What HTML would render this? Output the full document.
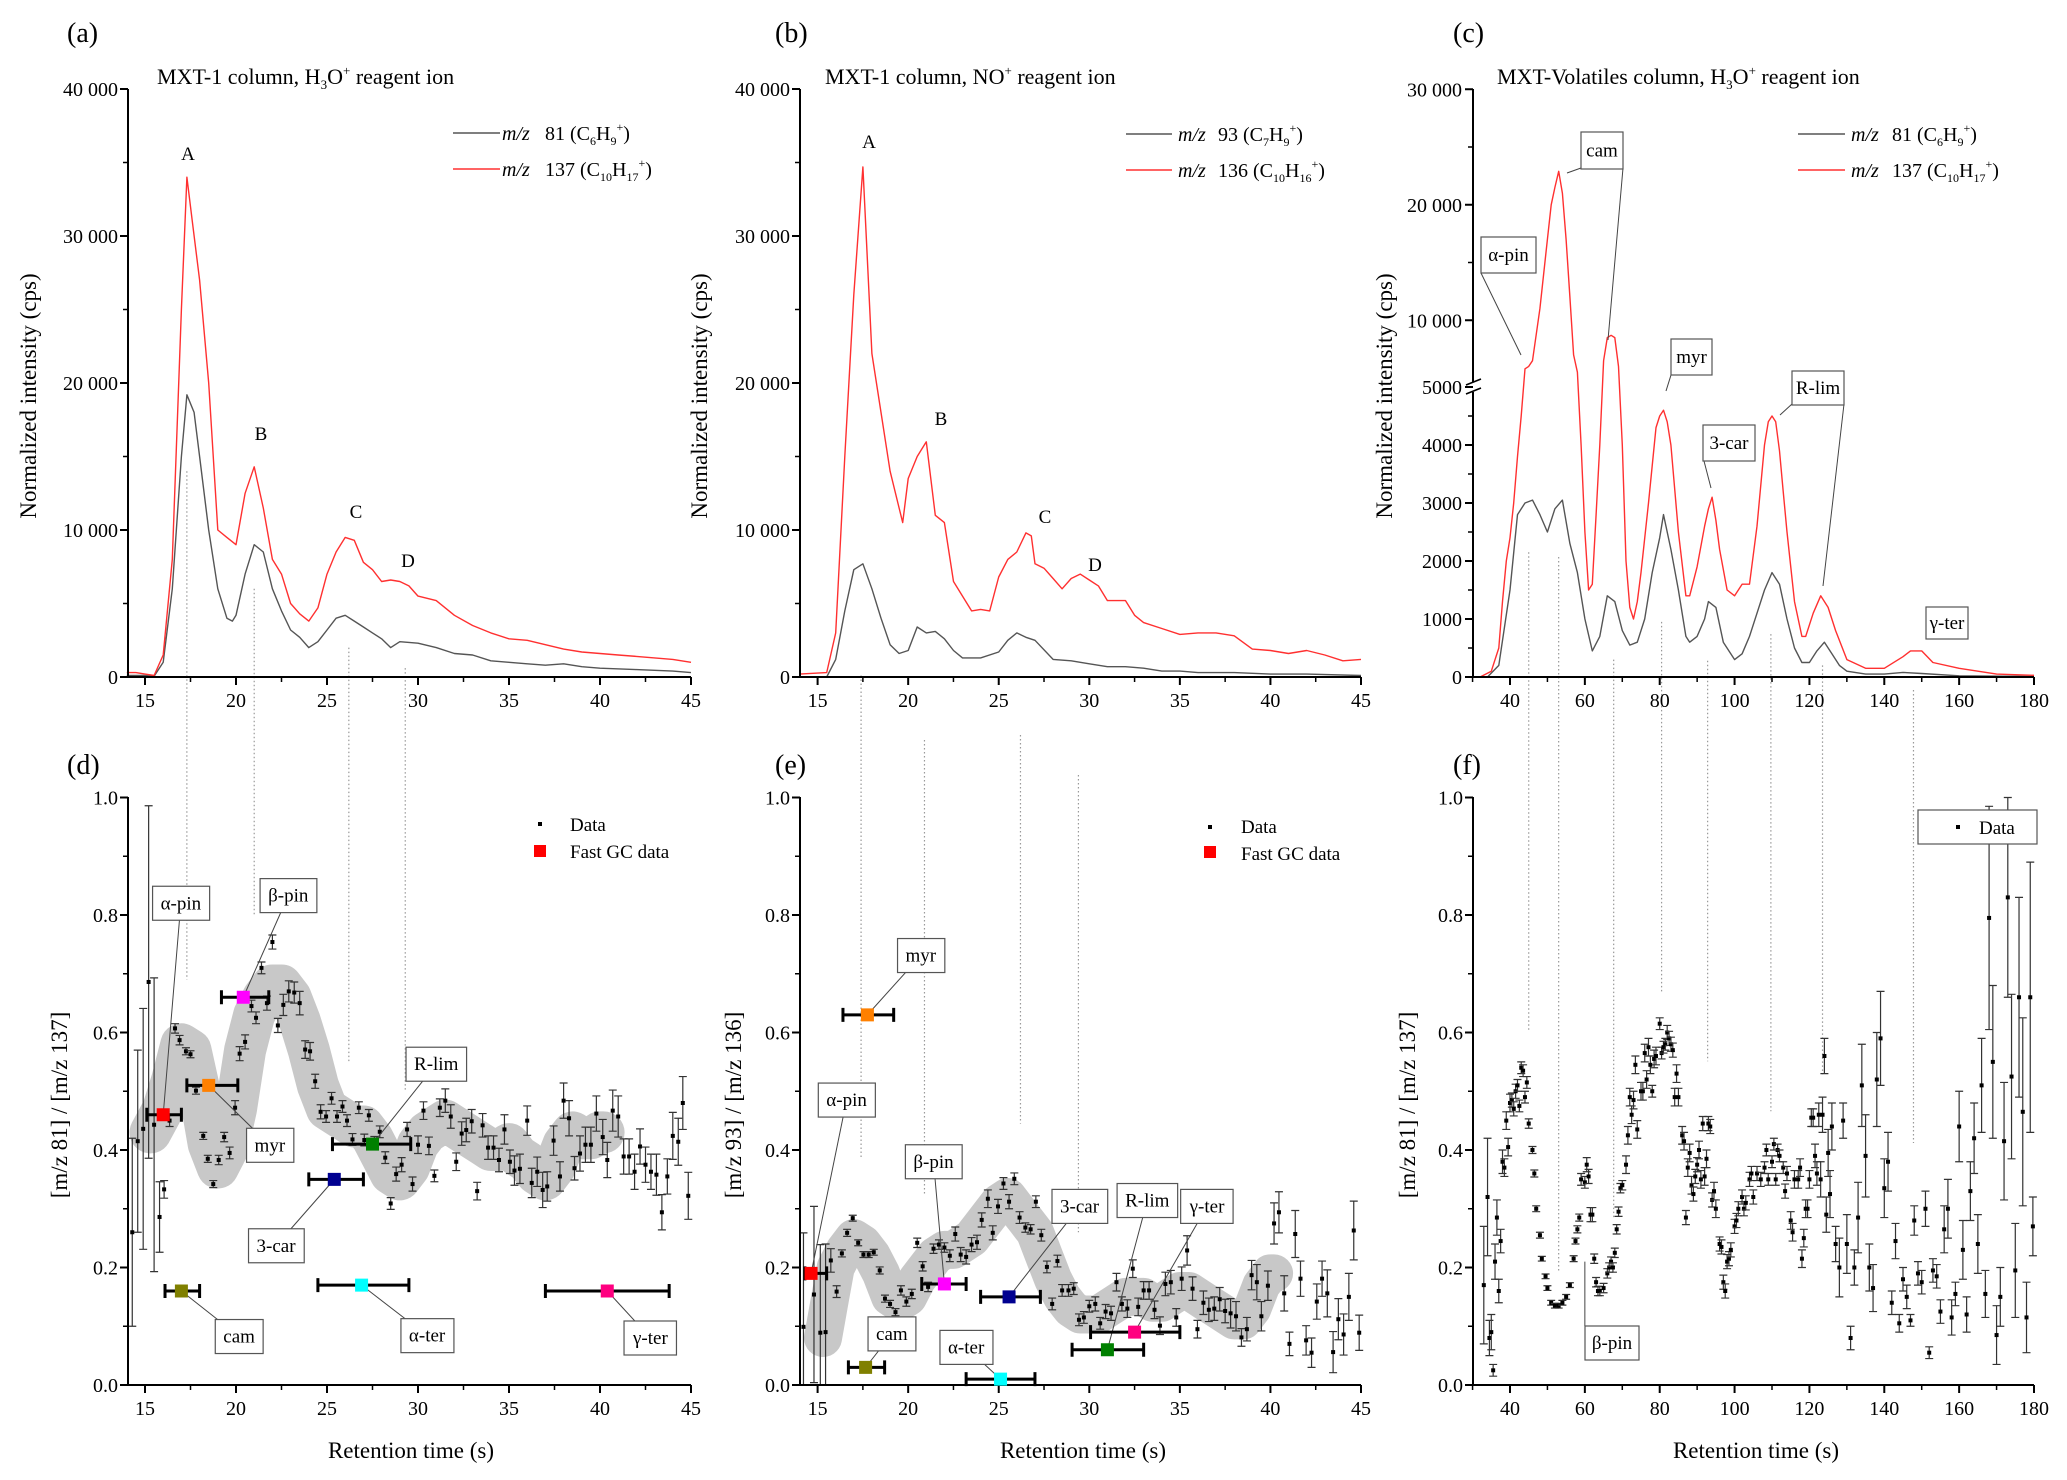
<!DOCTYPE html>
<html><head><meta charset="utf-8"><title>Terpene chromatograms and ratio plots</title>
<style>
html,body{margin:0;padding:0;background:#fff;}
svg{display:block;}
svg, svg text, svg tspan{font-family:"Liberation Serif","Times New Roman",Times,"DejaVu Serif",serif !important;}
</style></head>
<body>
<svg id="fig" xmlns="http://www.w3.org/2000/svg" width="2067" height="1480" viewBox="0 0 2067 1480" font-family="Liberation Serif, Times New Roman, Times, DejaVu Serif, serif">
<rect x="0" y="0" width="2067" height="1480" fill="#fff"/>
<g id="layer-band"></g>
<g id="layer-guides"></g>
<g id="layer-main"></g>
<g id="layer-axes"></g>
<g id="layer-ann"></g>
<g font-size="20" fill="#000">
  <text x="67" y="42" font-size="28">(a)</text>
  <text x="775" y="42" font-size="28">(b)</text>
  <text x="1453" y="42" font-size="28">(c)</text>
  <text x="67" y="774" font-size="28">(d)</text>
  <text x="775" y="774" font-size="28">(e)</text>
  <text x="1453" y="774" font-size="28">(f)</text>

  <text x="157" y="84" font-size="22">MXT-1 column, H<tspan font-size="13" dy="5">3</tspan><tspan dy="-5">O</tspan><tspan font-size="13" dy="-9">+</tspan><tspan dy="9"> reagent ion</tspan></text>
  <text x="825" y="84" font-size="22">MXT-1 column, NO<tspan font-size="13" dy="-9">+</tspan><tspan dy="9"> reagent ion</tspan></text>
  <text x="1497" y="84" font-size="22">MXT-Volatiles column, H<tspan font-size="13" dy="5">3</tspan><tspan dy="-5">O</tspan><tspan font-size="13" dy="-9">+</tspan><tspan dy="9"> reagent ion</tspan></text>

  <text transform="translate(36,396) rotate(-90)" text-anchor="middle" font-size="23">Normalized intensity (cps)</text>
  <text transform="translate(707,396) rotate(-90)" text-anchor="middle" font-size="23">Normalized intensity (cps)</text>
  <text transform="translate(1392,396) rotate(-90)" text-anchor="middle" font-size="23">Normalized intensity (cps)</text>
  <text transform="translate(67,1105) rotate(-90)" text-anchor="middle" font-size="23">[m/z  81] / [m/z  137]</text>
  <text transform="translate(741,1105) rotate(-90)" text-anchor="middle" font-size="23">[m/z 93] / [m/z  136]</text>
  <text transform="translate(1415,1105) rotate(-90)" text-anchor="middle" font-size="23">[m/z  81] / [m/z  137]</text>

  <text x="411" y="1458" text-anchor="middle" font-size="23">Retention time (s)</text>
  <text x="1083" y="1458" text-anchor="middle" font-size="23">Retention time (s)</text>
  <text x="1756" y="1458" text-anchor="middle" font-size="23">Retention time (s)</text>

  <g>
    <line x1="453" y1="133" x2="500" y2="133" stroke="#555" stroke-width="1.5"/>
    <text x="502" y="140"><tspan font-style="italic">m/z</tspan><tspan x="545">81 (C</tspan><tspan font-size="12" dy="5">6</tspan><tspan dy="-5">H</tspan><tspan font-size="12" dy="5">9</tspan><tspan font-size="12" dy="-14">+</tspan><tspan dy="9">)</tspan></text>
    <line x1="453" y1="169" x2="500" y2="169" stroke="#ff3030" stroke-width="1.5"/>
    <text x="502" y="176"><tspan font-style="italic">m/z</tspan><tspan x="545">137 (C</tspan><tspan font-size="12" dy="5">10</tspan><tspan dy="-5">H</tspan><tspan font-size="12" dy="5">17</tspan><tspan font-size="12" dy="-14">+</tspan><tspan dy="9">)</tspan></text>
  </g>
  <g>
    <line x1="1126" y1="134" x2="1172" y2="134" stroke="#555" stroke-width="1.5"/>
    <text x="1178" y="141"><tspan font-style="italic">m/z</tspan><tspan x="1218">93 (C</tspan><tspan font-size="12" dy="5">7</tspan><tspan dy="-5">H</tspan><tspan font-size="12" dy="5">9</tspan><tspan font-size="12" dy="-14">+</tspan><tspan dy="9">)</tspan></text>
    <line x1="1126" y1="170" x2="1172" y2="170" stroke="#ff3030" stroke-width="1.5"/>
    <text x="1178" y="177"><tspan font-style="italic">m/z</tspan><tspan x="1218">136 (C</tspan><tspan font-size="12" dy="5">10</tspan><tspan dy="-5">H</tspan><tspan font-size="12" dy="5">16</tspan><tspan font-size="12" dy="-14">+</tspan><tspan dy="9">)</tspan></text>
  </g>
  <g>
    <line x1="1798" y1="134" x2="1845" y2="134" stroke="#555" stroke-width="1.5"/>
    <text x="1851" y="141"><tspan font-style="italic">m/z</tspan><tspan x="1892">81 (C</tspan><tspan font-size="12" dy="5">6</tspan><tspan dy="-5">H</tspan><tspan font-size="12" dy="5">9</tspan><tspan font-size="12" dy="-14">+</tspan><tspan dy="9">)</tspan></text>
    <line x1="1798" y1="170" x2="1845" y2="170" stroke="#ff3030" stroke-width="1.5"/>
    <text x="1851" y="177"><tspan font-style="italic">m/z</tspan><tspan x="1892">137 (C</tspan><tspan font-size="12" dy="5">10</tspan><tspan dy="-5">H</tspan><tspan font-size="12" dy="5">17</tspan><tspan font-size="12" dy="-14">+</tspan><tspan dy="9">)</tspan></text>
  </g>
  <g>
    <rect x="538" y="822" width="4" height="4" fill="#000"/>
    <text x="570" y="831" font-size="19">Data</text>
    <rect x="534" y="845" width="12" height="12" fill="#ff0000"/>
    <text x="570" y="858" font-size="19">Fast GC data</text>
  </g>
  <g>
    <rect x="1208" y="825" width="4" height="4" fill="#000"/>
    <text x="1241" y="833" font-size="19">Data</text>
    <rect x="1204" y="846" width="12" height="12" fill="#ff0000"/>
    <text x="1241" y="860" font-size="19">Fast GC data</text>
  </g>
  <g>
    <rect x="1918" y="810" width="119" height="34" fill="#fff" stroke="#555" stroke-width="1.2"/>
    <rect x="1956" y="825" width="4" height="4" fill="#000"/>
    <text x="1979" y="834" font-size="19">Data</text>
  </g>
  <text x="188" y="160" text-anchor="middle" font-size="19">A</text>
  <text x="261" y="440" text-anchor="middle" font-size="19">B</text>
  <text x="356" y="518" text-anchor="middle" font-size="19">C</text>
  <text x="408" y="567" text-anchor="middle" font-size="19">D</text>
  <text x="869" y="148" text-anchor="middle" font-size="19">A</text>
  <text x="941" y="425" text-anchor="middle" font-size="19">B</text>
  <text x="1045" y="523" text-anchor="middle" font-size="19">C</text>
  <text x="1095" y="571" text-anchor="middle" font-size="19">D</text>
</g>
</svg>
<script>
// ---------- Data: panel (a) ----------
const aT137 = [14,14.5,15,15.5,16,16.5,17,17.3,17.6,18,18.5,19,19.5,20,20.5,21,21.5,22,22.5,23,23.5,24,24.5,25,25.5,26,26.5,27,27.5,28,28.5,29,29.5,30,31,32,33,34,35,36,37,38,39,40,41,42,43,44,45];
const aV137 = [300,300,200,100,1500,8000,25000,34000,31000,27000,20000,10000,9500,9000,12500,14300,11500,8000,7000,5000,4300,3800,4700,7000,8500,9500,9300,7800,7300,6500,6600,6500,6200,5500,5200,4200,3500,3000,2600,2500,2200,1900,1700,1600,1500,1400,1300,1200,1000];
const aT81 = [14,15,15.5,16,16.5,17,17.3,17.7,18,18.5,19,19.5,19.8,20,20.5,21,21.5,22,22.5,23,23.5,24,24.5,25,25.5,26,26.5,27,27.5,28,28.5,29,30,31,32,33,34,35,36,37,38,39,40,42,44,45];
const aV81 = [100,100,50,1000,6000,15000,19200,18000,15000,10000,6000,4000,3800,4200,7000,9000,8500,6000,4500,3200,2700,2000,2400,3200,4000,4200,3800,3400,3000,2600,2000,2400,2300,2000,1600,1500,1100,1000,900,800,900,700,600,500,400,300];
// ---------- Data: panel (b) ----------
const bT136 = [14,15.5,16,16.5,17,17.5,18,18.5,19,19.5,19.7,20,20.5,21,21.5,22,22.5,23,23.5,24,24.5,25,25.5,26,26.5,26.8,27,27.5,28,28.5,29,29.5,30,30.5,31,32,32.5,33,34,35,36,37,38,39,40,41,42,43,44,45];
const bV136 = [200,300,3000,15000,26000,34700,22000,18000,14000,11500,10500,13500,15000,16000,11000,10500,6500,5500,4500,4600,4500,6800,8000,8500,9800,9600,7700,7400,6700,6000,6700,7000,6600,6200,5200,5200,4200,3700,3300,2900,3000,3000,2800,1900,1800,1600,1800,1500,1100,1200];
const bT93 = [14,15.5,16,16.5,17,17.5,18,18.5,19,19.5,20,20.5,21,21.5,22,22.5,23,24,25,25.5,26,26.5,27,28,29,30,31,32,33,34,35,36,38,40,42,45];
const bV93 = [0,0,1200,4500,7300,7700,6000,4000,2200,1600,1800,3400,3000,3100,2600,1800,1300,1300,1700,2500,3000,2700,2500,1200,1100,900,700,700,600,400,400,300,300,200,200,100];
// ---------- Data: panel (c) ----------
const cT137 = [32,35,37,38,39,40,41,42,43,44,45,46,48,50,51,52,53,54,55,56,57,58,59,60,61,62,63,64,65,66,67,68,69,70,71,72,73,74,75,77,79,80,81,82,83,85,87,88,90,92,93,94,95,96,98,100,102,104,106,108,109,110,111,112,113,114,116,118,119,121,123,125,127,130,135,140,145,147,150,153,160,165,170,180];
const cV137 = [0,100,500,1300,2000,2400,3000,3800,4500,5800,6000,6500,11000,17000,20000,21500,22900,21000,17000,12000,7000,5500,4000,2500,1500,1600,2800,4000,6500,8500,8700,8500,6000,4000,2000,1200,1000,1300,1800,3000,4300,4500,4600,4400,4000,2500,1400,1400,1900,2600,2900,3100,2700,2200,1500,1400,1600,1600,2600,4000,4400,4500,4400,3900,3200,2500,1300,700,700,1100,1400,1200,800,300,150,150,350,450,450,250,150,100,50,30];
const cT81 = [34,37,40,42,44,46,48,50,52,54,56,58,60,62,64,66,68,70,72,74,76,78,80,81,83,85,87,88,90,92,93,95,97,100,102,104,106,108,110,112,114,116,118,120,122,124,126,128,130,135,140,145,150,160,180];
const cV81 = [0,200,1500,2800,3000,3050,2800,2500,2900,3050,2300,1800,1000,450,700,1400,1300,800,550,600,1000,1800,2400,2800,2200,1500,700,600,700,1000,1300,1200,600,300,400,700,1100,1500,1800,1600,1000,500,250,250,450,600,400,200,100,50,50,80,60,20,10];
// ---------- Data: panel (d) ----------
const dT = [14.3,14.6,14.9,15.2,15.5,15.8,16.05,16.35,16.65,16.9,17.25,17.5,17.8,18.2,18.45,18.75,19.05,19.35,19.65,19.95,20.2,20.5,20.85,21.1,21.4,21.7,22.0,22.3,22.6,22.9,23.2,23.5,23.8,24.07,24.35,24.65,24.95,25.25,25.55,25.85,26.1,26.4,26.75,27.05,27.3,27.6,27.9,28.2,28.5,28.8,29.1,29.4,29.7,30.0,30.3,30.6,30.9,31.2,31.5,31.8,32.1,32.4,32.65,32.95,33.25,33.55,33.85,34.15,34.45,34.75,35.05,35.3,35.6,36.0,36.25,36.55,36.85,37.1,37.45,37.8,38.0,38.3,38.6,38.9,39.2,39.5,39.8,40.15,40.4,40.7,41.0,41.3,41.6,41.9,42.2,42.5,42.8,43.1,43.4,43.7,44.0,44.3,44.55,44.85];
const dV = [0.26,0.415,0.436,0.686,0.443,0.286,0.333,0.45,0.607,0.587,0.568,0.563,0.501,0.424,0.385,0.342,0.383,0.422,0.395,0.472,0.564,0.584,0.645,0.625,0.71,0.65,0.754,0.612,0.647,0.67,0.668,0.65,0.571,0.568,0.517,0.465,0.457,0.488,0.457,0.474,0.45,0.418,0.472,0.417,0.459,0.413,0.431,0.387,0.309,0.359,0.375,0.435,0.342,0.409,0.467,0.407,0.356,0.472,0.484,0.457,0.38,0.428,0.434,0.449,0.33,0.442,0.404,0.404,0.383,0.435,0.38,0.365,0.368,0.45,0.344,0.363,0.332,0.338,0.416,0.355,0.484,0.454,0.369,0.394,0.409,0.409,0.462,0.422,0.383,0.467,0.457,0.389,0.389,0.363,0.406,0.375,0.363,0.358,0.294,0.355,0.424,0.414,0.48,0.322];
const dE = [0.16,0.155,0.205,0.3,0.25,0.06,0.015,0.01,0.008,0.008,0.006,0.006,0.006,0.006,0.006,0.006,0.008,0.008,0.01,0.012,0.012,0.012,0.01,0.01,0.01,0.012,0.012,0.012,0.018,0.018,0.018,0.02,0.015,0.015,0.012,0.012,0.01,0.01,0.01,0.01,0.01,0.01,0.01,0.01,0.01,0.01,0.01,0.01,0.01,0.012,0.012,0.012,0.012,0.015,0.015,0.015,0.01,0.015,0.02,0.02,0.015,0.02,0.02,0.02,0.015,0.02,0.02,0.02,0.02,0.025,0.02,0.025,0.025,0.025,0.025,0.025,0.03,0.025,0.025,0.025,0.03,0.03,0.02,0.03,0.03,0.03,0.03,0.03,0.03,0.035,0.035,0.03,0.03,0.03,0.03,0.03,0.03,0.035,0.03,0.03,0.04,0.04,0.045,0.04];
const dBandT = [15.3,16,16.5,17,17.5,18,18.5,19,19.5,20,20.5,21,21.5,22,22.5,23,23.5,24,24.5,25,25.5,26,26.5,27,27.5,28,28.5,29,29.5,30,30.5,31,31.5,32,32.5,33,33.5,34,34.5,35,35.5,36,36.5,37,37.5,38,38.5,39,39.5,40,40.2];
const dBandV = [0.43,0.47,0.52,0.58,0.57,0.5,0.41,0.37,0.4,0.47,0.57,0.63,0.66,0.68,0.68,0.66,0.62,0.57,0.51,0.47,0.46,0.45,0.44,0.44,0.42,0.39,0.36,0.35,0.37,0.41,0.43,0.44,0.45,0.44,0.43,0.42,0.41,0.4,0.4,0.41,0.39,0.38,0.36,0.35,0.37,0.41,0.43,0.42,0.42,0.43,0.43];
const dGcNames = ["α-pin","β-pin","myr","R-lim","3-car","cam","α-ter","γ-ter"];
const dGcT = [16.0,20.4,18.5,27.5,25.4,17.0,26.9,40.4];
const dGcV = [0.46,0.66,0.51,0.41,0.35,0.16,0.17,0.16];
const dGcLo = [15.1,19.2,17.3,25.3,24.0,16.1,24.5,37.0];
const dGcHi = [17.0,21.8,20.1,29.6,27.0,18.0,29.5,43.8];
const dGcColors = ["#ff0000","#ff00ff","#ff8000","#008000","#000090","#808000","#00ffff","#ff0080"];
const dLabT = [16.97,22.87,21.86,31.0,22.2,20.17,30.5,42.77];
const dLabV = [0.82,0.833,0.408,0.546,0.237,0.0825,0.084,0.08];
// ---------- Data: panel (e) ----------
const eT = [14.22,14.8,15.15,15.44,15.73,16.05,16.34,16.63,16.94,17.24,17.53,17.82,18.1,18.43,18.72,19.0,19.3,19.6,19.9,20.2,20.5,20.8,21.1,21.4,21.7,22.0,22.3,22.6,22.9,23.2,23.5,23.8,24.06,24.4,24.67,24.96,25.26,25.57,25.86,26.15,26.47,26.76,27.05,27.35,27.66,27.95,28.24,28.5,28.85,29.14,29.43,29.7,30.0,30.33,30.6,30.9,31.2,31.5,31.8,32.1,32.4,32.7,33.0,33.3,33.6,33.9,34.2,34.5,34.8,35.1,35.4,35.7,35.97,36.3,36.6,36.9,37.2,37.5,37.8,38.1,38.4,38.7,38.96,39.25,39.5,39.86,40.2,40.47,40.76,41.05,41.37,41.66,41.97,42.27,42.56,42.85,43.14,43.46,43.75,44.04,44.33,44.6,44.9];
const eV = [0.099,0.154,0.089,0.09,0.212,0.159,0.224,0.259,0.284,0.242,0.222,0.222,0.226,0.195,0.147,0.138,0.124,0.161,0.142,0.155,0.242,0.202,0.167,0.232,0.239,0.234,0.22,0.257,0.222,0.218,0.239,0.243,0.281,0.317,0.259,0.304,0.343,0.312,0.351,0.285,0.268,0.265,0.312,0.255,0.201,0.138,0.211,0.161,0.161,0.164,0.111,0.115,0.134,0.138,0.105,0.125,0.122,0.175,0.138,0.13,0.198,0.133,0.161,0.161,0.128,0.101,0.172,0.175,0.115,0.181,0.229,0.164,0.095,0.14,0.128,0.13,0.146,0.126,0.122,0.117,0.081,0.095,0.187,0.175,0.117,0.169,0.275,0.294,0.156,0.07,0.257,0.181,0.076,0.055,0.142,0.181,0.156,0.056,0.112,0.086,0.15,0.263,0.089];
const eE = [0.16,0.15,0.15,0.15,0.02,0.01,0.006,0.006,0.005,0.005,0.005,0.005,0.005,0.006,0.006,0.006,0.006,0.008,0.008,0.008,0.008,0.008,0.008,0.008,0.008,0.008,0.01,0.012,0.012,0.012,0.012,0.012,0.012,0.015,0.012,0.012,0.01,0.012,0.01,0.01,0.008,0.008,0.01,0.01,0.01,0.01,0.01,0.01,0.01,0.01,0.01,0.01,0.01,0.012,0.01,0.012,0.012,0.015,0.012,0.015,0.015,0.015,0.015,0.015,0.015,0.015,0.02,0.02,0.015,0.02,0.025,0.02,0.015,0.02,0.02,0.02,0.02,0.02,0.025,0.025,0.015,0.02,0.025,0.03,0.025,0.025,0.035,0.035,0.03,0.02,0.04,0.03,0.025,0.025,0.03,0.03,0.04,0.035,0.035,0.035,0.04,0.05,0.03];
const eBandT = [15.3,15.7,16,16.5,17,17.5,18,18.5,19,19.5,20,20.5,21,21.5,22,22.5,23,23.5,24,24.5,25,25.5,26,26.5,27,27.5,28,28.5,29,29.5,30,30.5,31,31.5,32,32.5,33,33.5,34,34.5,35,35.5,36,36.5,37,37.5,38,38.5,39,39.5,40,40.2];
const eBandV = [0.08,0.15,0.2,0.23,0.25,0.24,0.22,0.19,0.15,0.14,0.15,0.18,0.2,0.22,0.23,0.23,0.24,0.25,0.27,0.29,0.31,0.32,0.3,0.28,0.26,0.22,0.18,0.15,0.13,0.12,0.12,0.12,0.13,0.14,0.15,0.15,0.15,0.14,0.14,0.15,0.16,0.16,0.15,0.14,0.13,0.12,0.11,0.11,0.13,0.17,0.19,0.19];
const eGcNames = ["α-pin","myr","cam","β-pin","3-car","α-ter","R-lim","γ-ter"];
const eGcT = [14.64,17.75,17.65,22.0,25.57,25.1,31.0,32.5];
const eGcV = [0.19,0.63,0.03,0.172,0.15,0.01,0.06,0.09];
const eGcLo = [14.3,16.4,16.7,20.75,24.0,23.2,29.05,30.07];
const eGcHi = [15.5,19.2,18.7,23.2,27.3,27.0,33.0,35.0];
const eGcColors = ["#ff0000","#ff8000","#808000","#ff00ff","#000090","#00ffff","#008000","#ff0080"];
const eLabT = [16.6,20.7,19.1,21.4,29.46,23.2,33.2,36.5];
const eLabV = [0.485,0.731,0.087,0.38,0.304,0.064,0.314,0.304];
// ---------- Data: panel (f) ----------
const fT = [33,34,34.5,35,35.5,36,36.5,37,37.5,38,38.5,39,39.5,40,40.5,41,41.5,42,42.5,43,43.5,44,44.5,45,46,46.5,47,48,48.5,49.5,50,51,52,53,54,55,56,57,57.5,58,58.5,59,60,60.5,61,61.5,62,62.5,63,63.5,64,65,66,66.5,67,67.5,68,68.5,69,69.5,70,71,71.5,72,72.5,73,73.5,74,75,75.5,76,76.5,77,77.5,78,78.5,79,80,80.5,81,81.5,82,82.5,83,83.5,84,84.5,85,86,86.5,87,87.5,88,88.5,89,89.5,90,90.5,91,91.5,92,92.5,93,93.5,94,94.5,95,96,96.5,97,97.5,98,98.5,99,100,100.5,101,102,102.5,103,104,104.5,105,106,107,108,108.5,109,110,110.5,111,111.5,112,113,113.5,114,115,115.5,116,117,117.5,118,118.5,119,119.5,120,120.5,121,121.5,122,122.5,123,123.5,124,124.5,125,125.5,126,127,128,129,130,131,132,133,134,135,136,137,138,139,140,141,142,143,144,145,146,147,148,149,150,151,152,153,154,155,156,157,158,159,160,161,162,163,164,165,166,167,168,169,170,171,172,173,174,175,176,177,178,179,179.7];
const fV = [0.17,0.32,0.08,0.09,0.025,0.21,0.285,0.16,0.245,0.38,0.37,0.45,0.405,0.48,0.485,0.47,0.5,0.51,0.475,0.54,0.535,0.49,0.515,0.445,0.4,0.36,0.3,0.255,0.215,0.185,0.165,0.14,0.135,0.135,0.14,0.15,0.17,0.215,0.245,0.265,0.285,0.35,0.345,0.375,0.355,0.29,0.29,0.215,0.175,0.16,0.16,0.165,0.19,0.2,0.21,0.2,0.225,0.265,0.295,0.335,0.34,0.375,0.425,0.49,0.46,0.485,0.545,0.435,0.5,0.5,0.565,0.52,0.575,0.545,0.5,0.555,0.56,0.615,0.565,0.575,0.58,0.6,0.59,0.58,0.57,0.49,0.53,0.49,0.425,0.415,0.285,0.37,0.395,0.34,0.325,0.355,0.375,0.4,0.35,0.445,0.355,0.385,0.445,0.44,0.315,0.33,0.3,0.24,0.235,0.175,0.16,0.21,0.215,0.23,0.27,0.28,0.3,0.32,0.3,0.31,0.35,0.36,0.32,0.36,0.35,0.37,0.4,0.35,0.38,0.41,0.35,0.4,0.39,0.37,0.33,0.36,0.28,0.26,0.35,0.35,0.37,0.215,0.25,0.3,0.3,0.35,0.455,0.455,0.39,0.36,0.46,0.35,0.46,0.56,0.29,0.395,0.325,0.44,0.24,0.2,0.45,0.24,0.08,0.2,0.285,0.51,0.39,0.2,0.165,0.52,0.59,0.335,0.38,0.14,0.245,0.105,0.18,0.15,0.11,0.28,0.19,0.175,0.3,0.055,0.195,0.185,0.125,0.265,0.3,0.115,0.155,0.44,0.23,0.12,0.33,0.42,0.24,0.51,0.155,0.795,0.55,0.085,0.15,0.415,0.83,0.525,0.195,0.66,0.465,0.115,0.66,0.27];
const fE = [0.1,0.1,0.03,0.03,0.01,0.03,0.03,0.02,0.02,0.02,0.015,0.015,0.015,0.015,0.012,0.012,0.012,0.01,0.01,0.01,0.01,0.01,0.01,0.008,0.006,0.006,0.005,0.005,0.004,0.004,0.004,0.004,0.004,0.004,0.004,0.004,0.004,0.005,0.005,0.006,0.006,0.01,0.01,0.012,0.012,0.012,0.012,0.008,0.008,0.008,0.008,0.008,0.008,0.008,0.008,0.008,0.008,0.008,0.008,0.008,0.008,0.015,0.015,0.015,0.015,0.015,0.015,0.015,0.015,0.015,0.015,0.015,0.015,0.015,0.01,0.015,0.015,0.01,0.01,0.01,0.01,0.012,0.012,0.012,0.012,0.015,0.015,0.015,0.015,0.015,0.012,0.015,0.015,0.015,0.012,0.012,0.012,0.015,0.015,0.012,0.015,0.015,0.012,0.012,0.012,0.015,0.015,0.012,0.012,0.012,0.012,0.012,0.012,0.012,0.012,0.012,0.012,0.012,0.012,0.012,0.012,0.012,0.012,0.012,0.012,0.01,0.01,0.01,0.01,0.01,0.01,0.01,0.01,0.01,0.012,0.012,0.015,0.015,0.015,0.015,0.015,0.015,0.015,0.015,0.015,0.015,0.015,0.015,0.02,0.02,0.02,0.03,0.03,0.03,0.03,0.04,0.04,0.04,0.03,0.05,0.03,0.05,0.02,0.03,0.06,0.07,0.07,0.04,0.04,0.08,0.08,0.05,0.05,0.02,0.03,0.015,0.02,0.02,0.01,0.025,0.02,0.02,0.03,0.01,0.02,0.02,0.02,0.04,0.05,0.03,0.02,0.06,0.05,0.03,0.05,0.06,0.05,0.08,0.04,0.19,0.13,0.05,0.05,0.1,0.17,0.14,0.08,0.17,0.16,0.06,0.23,0.05];

// ---------- Layout ----------
const SVGNS = "http://www.w3.org/2000/svg";
const FONT = "Liberation Serif, Times New Roman, Times, DejaVu Serif, serif";
const layBand = document.getElementById('layer-band');
const layGuide = document.getElementById('layer-guides');
const layMain = document.getElementById('layer-main');
const layAxes = document.getElementById('layer-axes');
const layAnn = document.getElementById('layer-ann');
function mk(tag, attrs, parent){ const e=document.createElementNS(SVGNS,tag); for(const k in attrs) e.setAttribute(k,attrs[k]); if(tag==='text') e.setAttribute('font-family',FONT); parent.appendChild(e); return e; }
document.querySelectorAll('text').forEach(t=>t.setAttribute('font-family',FONT));

function linX(t0,p0,t1,p1){ return t => p0 + (t-t0)*(p1-p0)/(t1-t0); }
const xA = linX(15,145,45,691);
const xB = linX(15,817.6,45,1361);
const xC = linX(40,1510,180,2034);
const yTop = v => 677 - v/40000*588;
const yC = v => v<=5000 ? 677 - v*0.058 : 378 - (v-5000)*0.01155;
const yBot = v => 1385 - v*587.5;

function drawLine(ts, vs, xf, yf, color, name){
  const pts = ts.map((t,i)=> xf(t).toFixed(1)+','+yf(vs[i]).toFixed(1)).join(' ');
  const p = mk('polyline',{points:pts,fill:'none',stroke:color,'stroke-width':1.4,'stroke-linejoin':'round'},layMain);
  
  
}
drawLine(aT81,aV81,xA,yTop,'#555','series-mz81-a');
drawLine(aT137,aV137,xA,yTop,'#ff3030','series-mz137-a');
drawLine(bT93,bV93,xB,yTop,'#555','series-mz93-b');
drawLine(bT136,bV136,xB,yTop,'#ff3030','series-mz136-b');
drawLine(cT81,cV81,xC,yC,'#555','series-mz81-c');
drawLine(cT137,cV137,xC,yC,'#ff3030','series-mz137-c');

function drawBand(ts, vs, xf, w, name){
  const pts = ts.map((t,i)=> xf(t).toFixed(1)+','+yBot(vs[i]).toFixed(1)).join(' ');
  const p = mk('polyline',{points:pts,fill:'none',stroke:'#c8c8c8','stroke-width':w,'stroke-linejoin':'round','stroke-linecap':'round'},layBand);
  
  
}
drawBand(dBandT,dBandV,xA,42,'uncertainty-band-d');
drawBand(eBandT,eBandV,xB,38,'uncertainty-band-e');

function drawPoints(ts, vs, es, xf, tag){
  const g = mk('g',{},layMain);
  
  
  ts.forEach((t,i)=>{
    const x = xf(t), y = yBot(vs[i]);
    const yl = Math.min(1385, yBot(vs[i]-es[i])), yh = yBot(Math.min(1.0, vs[i]+es[i]));
    const eb = mk('path',{d:`M${x},${yh}V${yl}M${x-4},${yh}H${x+4}M${x-4},${yl}H${x+4}`,stroke:'#333','stroke-width':1.2,fill:'none'},g);
    
    
    const r = mk('rect',{x:x-2,y:y-2,width:4,height:4,fill:'#000'},g);
    
    
  });
}
drawPoints(dT,dV,dE,xA,'d');
drawPoints(eT,eV,eE,xB,'e');
drawPoints(fT,fV,fE,xC,'f');

function drawLabelBox(cx, cy, label, name){
  const t = mk('text',{x:cx,y:cy+6,'text-anchor':'middle','font-size':19},layAnn);
  t.textContent = label;
  const bb = t.getBBox();
  const r = mk('rect',{x:bb.x-8,y:cy-17,width:bb.width+16,height:34,fill:'#fff',stroke:'#555','stroke-width':1.2},layAnn);
  layAnn.appendChild(t);
  
  
  
  
}
function drawGC(names, ts, vs, lo, hi, colors, labT, labV, xf, tag){
  names.forEach((n,i)=>{
    const x = xf(ts[i]), y = yBot(vs[i]);
    const lx = xf(labT[i]), ly = yBot(labV[i]);
    const ld = mk('line',{x1:x,y1:y,x2:lx,y2:ly,stroke:'#444','stroke-width':1},layAnn);
    
    
    const x0 = xf(lo[i]), x1 = xf(hi[i]);
    const bar = mk('path',{d:`M${x0},${y}H${x1}M${x0},${y-7}V${y+7}M${x1},${y-7}V${y+7}`,stroke:'#000','stroke-width':3,fill:'none'},layAnn);
    
    
    const sq = mk('rect',{x:x-6.5,y:y-6.5,width:13,height:13,fill:colors[i]},layAnn);
    
    
  });
  names.forEach((n,i)=>{ drawLabelBox(xf(labT[i]), yBot(labV[i]), n, 'gc-label-'+tag); });
}
drawGC(dGcNames,dGcT,dGcV,dGcLo,dGcHi,dGcColors,dLabT,dLabV,xA,'d');
drawGC(eGcNames,eGcT,eGcV,eGcLo,eGcHi,eGcColors,eLabT,eLabV,xB,'e');

function guide(x, y1, y2){
  const l = mk('line',{x1:x,y1:y1,x2:x,y2:y2,stroke:'#999','stroke-width':1.2,'stroke-dasharray':'1.5,2.5'},layGuide);
  
  
}
guide(xA(17.3), yTop(14000), yBot(0.69));
guide(xA(21.0), yTop(6000), yBot(0.8));
guide(xA(26.2), yTop(2000), yBot(0.55));
guide(xA(29.3), yTop(600), yBot(0.5));
guide(xB(17.4), yTop(100), yBot(0.385));
guide(xB(20.9), 740, yBot(0.325));
guide(xB(26.2), 735, yBot(0.445));
guide(xB(29.4), 775, yBot(0.26));
guide(xC(45), yC(2150), yBot(0.602));
guide(xC(53), yC(2070), yBot(0.195));
guide(xC(67.7), yC(300), yBot(0.283));
guide(xC(80.5), yC(950), yBot(0.668));
guide(xC(92.8), yC(280), yBot(0.551));
guide(xC(109.7), yC(740), yBot(0.466));
guide(xC(123.5), yC(200), yBot(0.529));
guide(xC(147.8), 690, yBot(0.412));

function annBox(x,y,w,h,label,name){
  const r = mk('rect',{x:x,y:y,width:w,height:h,fill:'#fff',stroke:'#555','stroke-width':1.2},layAnn);
  
  
  const t = mk('text',{x:x+w/2,y:y+h/2+6,'text-anchor':'middle','font-size':19},layAnn);
  t.textContent = label;
  
  
}
function annLine(x1,y1,x2,y2){
  const l = mk('line',{x1:x1,y1:y1,x2:x2,y2:y2,stroke:'#444','stroke-width':1},layAnn);
  
  
}
annLine(1481,273,1521,355); annBox(1481,237,55,36,'α-pin','peak-label-alpha-pin-c');
annLine(1581,168,1567,173); annLine(1623,168,1608,340); annBox(1581,132,42,37,'cam','peak-label-cam-c');
annLine(1671,375,1666,391); annBox(1671,339,41,36,'myr','peak-label-myr-c');
annLine(1704,461,1711,488); annBox(1703,425,52,36,'3-car','peak-label-3-car-c');
annLine(1792,404,1780,415); annLine(1844,404,1823,586); annBox(1792,371,52,34,'R-lim','peak-label-r-lim-c');
annBox(1926,607,42,32,'γ-ter','peak-label-gamma-ter-c');
annLine(xC(60),yBot(0.21),xC(60),1326); annBox(1585,1326,54,34,'β-pin','gc-label-beta-pin-f');

// ---------- Axes ----------
function axisGroup(name){ const g = mk('g',{},layAxes);   return g; }
function xAxis(g, xf, x0, x1, yAx, majors, minors){
  mk('line',{x1:x0,y1:yAx,x2:x1,y2:yAx,stroke:'#000','stroke-width':2},g);
  majors.forEach(t=>{ const x=xf(t); mk('line',{x1:x,y1:yAx,x2:x,y2:yAx+8,stroke:'#000','stroke-width':2},g);
    const tx = mk('text',{x:x,y:yAx+30,'text-anchor':'middle','font-size':20},g); tx.textContent=String(t);
    
     });
  minors.forEach(t=>{ const x=xf(t); mk('line',{x1:x,y1:yAx,x2:x,y2:yAx+5,stroke:'#000','stroke-width':1.5},g); });
}
function yAxis(g, yf, xAx, y0, y1, majors, labels, minors){
  mk('line',{x1:xAx,y1:y0,x2:xAx,y2:y1,stroke:'#000','stroke-width':2},g);
  majors.forEach((v,i)=>{ const y=yf(v); mk('line',{x1:xAx-8,y1:y,x2:xAx,y2:y,stroke:'#000','stroke-width':2},g);
    const tx = mk('text',{x:xAx-10,y:y+7,'text-anchor':'end','font-size':20},g); tx.textContent=labels[i];
    
     });
  minors.forEach(v=>{ const y=yf(v); mk('line',{x1:xAx-5,y1:y,x2:xAx,y2:y,stroke:'#000','stroke-width':1.5},g); });
}
const topTicks = [15,20,25,30,35,40,45];
const topMinor = [17.5,22.5,27.5,32.5,37.5,42.5];
const topY = [0,10000,20000,30000,40000];
const topYLab = ["0","10 000","20 000","30 000","40 000"];
const topYMinor = [5000,15000,25000,35000];
const botY = [0,0.2,0.4,0.6,0.8,1.0];
const botYLab = ["0.0","0.2","0.4","0.6","0.8","1.0"];
const botYMinor = [0.1,0.3,0.5,0.7,0.9];
const cTicks = [40,60,80,100,120,140,160,180];
const cMinor = [30,50,70,90,110,130,150,170];

let g;
g = axisGroup('axes-a'); xAxis(g,xA,128,691,677,topTicks,topMinor); yAxis(g,yTop,128,677,89,topY,topYLab,topYMinor);
g = axisGroup('axes-b'); xAxis(g,xB,800,1361,677,topTicks,topMinor); yAxis(g,yTop,800,677,89,topY,topYLab,topYMinor);
g = axisGroup('axes-d'); xAxis(g,xA,128,691,1385,topTicks,topMinor); yAxis(g,yBot,128,1385,797,botY,botYLab,botYMinor);
g = axisGroup('axes-e'); xAxis(g,xB,800,1361,1385,topTicks,topMinor); yAxis(g,yBot,800,1385,797,botY,botYLab,botYMinor);
g = axisGroup('axes-f'); xAxis(g,xC,1473,2034,1385,cTicks,cMinor); yAxis(g,yBot,1473,1385,797,botY,botYLab,botYMinor);
g = axisGroup('axes-c'); xAxis(g,xC,1473,2034,677,cTicks,cMinor);
mk('line',{x1:1473,y1:677,x2:1473,y2:392,stroke:'#000','stroke-width':2},g);
mk('line',{x1:1473,y1:382,x2:1473,y2:89,stroke:'#000','stroke-width':2},g);
mk('path',{d:'M1466,394 L1481,388 M1466,385 L1481,379',stroke:'#000','stroke-width':1.6,fill:'none'},g);
const cYLow = [0,1000,2000,3000,4000,5000];
const cYLowLab = ["0","1000","2000","3000","4000","5000"];
const cYLowMinor = [500,1500,2500,3500,4500];
const cYHigh = [10000,20000,30000];
const cYHighLab = ["10 000","20 000","30 000"];
const cYHighMinor = [15000,25000];
cYLow.forEach((v,i)=>{ const y = v===5000 ? 387 : yC(v); mk('line',{x1:1465,y1:y,x2:1473,y2:y,stroke:'#000','stroke-width':2},g);
  const tx = mk('text',{x:1462,y:y+7,'text-anchor':'end','font-size':20},g); tx.textContent=cYLowLab[i];
  
   });
cYLowMinor.forEach(v=>{ const y=yC(v); mk('line',{x1:1468,y1:y,x2:1473,y2:y,stroke:'#000','stroke-width':1.5},g); });
cYHigh.forEach((v,i)=>{ const y=yC(v); mk('line',{x1:1465,y1:y,x2:1473,y2:y,stroke:'#000','stroke-width':2},g);
  const tx = mk('text',{x:1462,y:y+7,'text-anchor':'end','font-size':20},g); tx.textContent=cYHighLab[i];
  
   });
cYHighMinor.forEach(v=>{ const y=yC(v); mk('line',{x1:1468,y1:y,x2:1473,y2:y,stroke:'#000','stroke-width':1.5},g); });
</script>
</body></html>
